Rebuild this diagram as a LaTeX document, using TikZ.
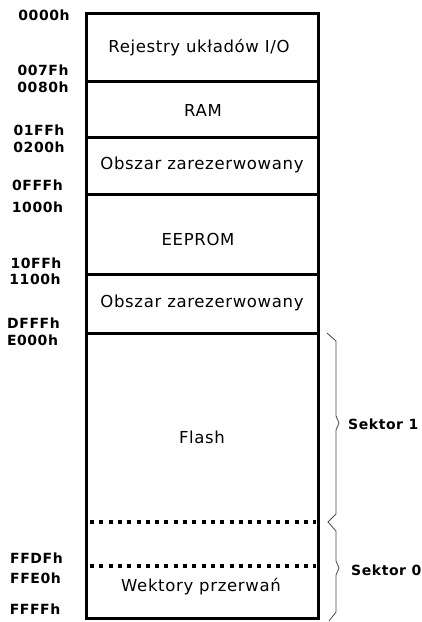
\documentclass[tikz,border=0pt]{standalone}
\usepackage{fontspec}
\setmainfont{DejaVu Sans}
\newfontfamily\regfont[LetterSpace=4]{DejaVu Sans}
\newfontfamily\labfont[LetterSpace=4]{DejaVu Sans Bold}
\begin{document}
\begin{tikzpicture}[x=1pt,y=-1pt,
  wall/.style={line width=3pt},
  addr/.style={font=\labfont\fontsize{14}{15}\selectfont, inner sep=0pt},
  region/.style={font=\regfont\fontsize{16.5}{17}\selectfont, inner sep=0pt},
  side/.style={font=\labfont\fontsize{14}{15}\selectfont, inner sep=0pt, anchor=west},
  sepline/.style={line width=3.5pt, dash pattern=on 4pt off 5.3pt},
  bracel/.style={line width=0.8pt, black!70, line join=miter}]
\useasboundingbox (0,0) rectangle (421,622);

% memory map box
\draw[wall] (86,13) rectangle (318,618);
\draw[wall] (86,81) -- (318,81);
\draw[wall] (86,137) -- (318,137);
\draw[wall] (86,194) -- (318,194);
\draw[wall] (86,274) -- (318,274);
\draw[wall] (86,333) -- (318,333);
\draw[sepline] (90,522) -- (316,522);
\draw[sepline] (90,566) -- (316,566);

% region texts
\node[region] (io)   at (199,48)  {Rejestry układów I/O};
\node[region] (ram)  at (203,110) {RAM};
\node[region] (res1) at (202,165) {Obszar zarezerwowany};
\node[region] (eep)  at (198,239) {EEPROM};
\node[region] (res2) at (202,303) {Obszar zarezerwowany};
\node[region] (fl)   at (202,437) {Flash};
\node[region] (vec)  at (201,587) {Wektory przerwań};

% addresses
\node[addr] (a1)  at (44,15)    {0000h};
\node[addr] (a2)  at (43,70)    {007Fh};
\node[addr] (a3)  at (43,87)    {0080h};
\node[addr] (a4)  at (39,130)   {01FFh};
\node[addr] (a5)  at (39,147)   {0200h};
\node[addr] (a6)  at (37.5,185) {0FFFh};
\node[addr] (a7)  at (37.5,207) {1000h};
\node[addr] (a8)  at (36,263)   {10FFh};
\node[addr] (a9)  at (35,279)   {1100h};
\node[addr] (a10) at (33.5,323) {DFFFh};
\node[addr] (a11) at (32.5,340) {E000h};
\node[addr] (a12) at (36.5,558) {FFDFh};
\node[addr] (a13) at (35.5,578) {FFE0h};
\node[addr] (a14) at (35,609)   {FFFFh};

% braces
\draw[bracel] (327,333) -- (336,341) -- (336,416) -- (339,423) -- (336,430)
  -- (336,514) -- (328,522) -- (336,531) -- (336,561) -- (339,568)
  -- (336,575) -- (336,612) -- (329,621);

\node[side] (s1) at (348,424) {Sektor 1};
\node[side] (s0) at (351,570) {Sektor 0};
\end{tikzpicture}
\end{document}
